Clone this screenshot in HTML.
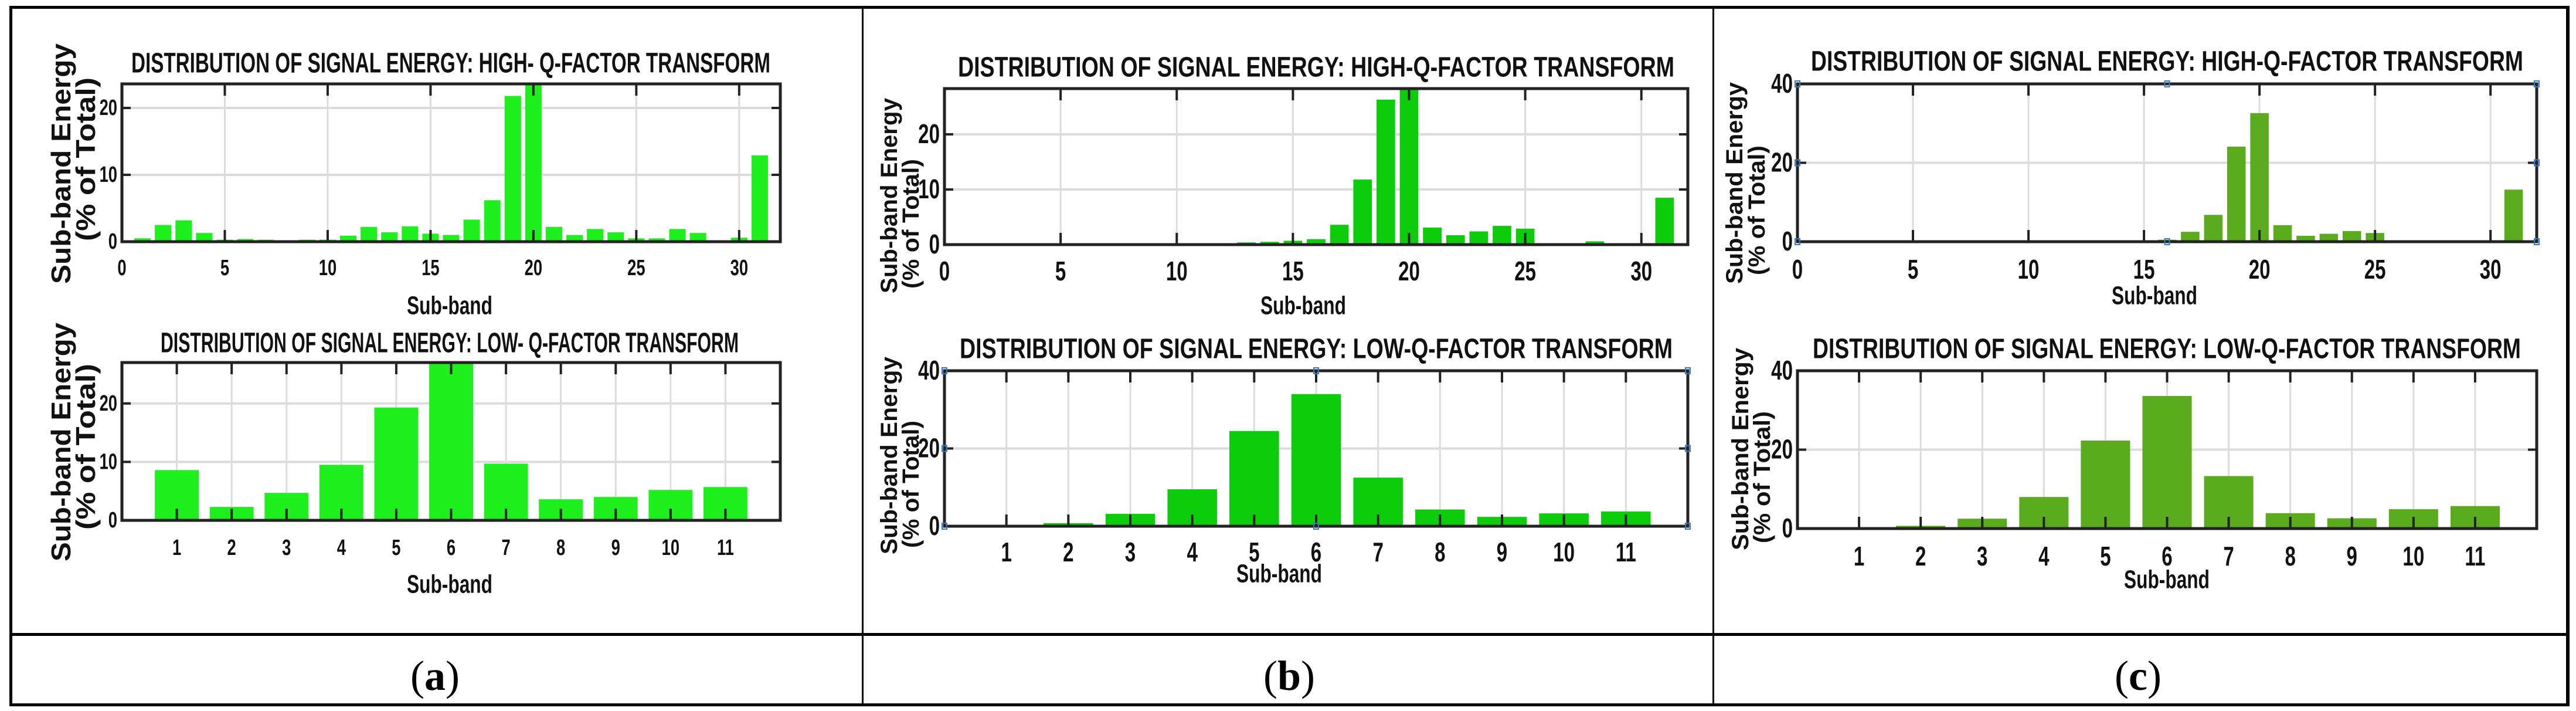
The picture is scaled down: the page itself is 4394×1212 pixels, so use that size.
<!DOCTYPE html>
<html><head><meta charset="utf-8"><style>
html,body{margin:0;padding:0;background:#fff;}
svg{display:block;}
text{font-family:"Liberation Sans",sans-serif;}
</style></head><body>
<svg id="fig" width="4394" height="1212" viewBox="0 0 4394 1212" xmlns="http://www.w3.org/2000/svg">
<rect x="0" y="0" width="4394" height="1212" fill="#fff"/>
<g id="frame">
<rect x="16" y="10" width="5" height="1194" fill="#000"/>
<rect x="4377" y="10" width="6" height="1194" fill="#000"/>
<rect x="16" y="10" width="4367" height="5" fill="#000"/>
<rect x="16" y="1079" width="4367" height="5" fill="#000"/>
<rect x="16" y="1199" width="4367" height="5" fill="#000"/>
<rect x="1470" y="10" width="3" height="1194" fill="#000"/>
<rect x="2921" y="10" width="3" height="1194" fill="#000"/>
</g>
<text x="742" y="1152" font-size="72" text-anchor="middle" dominant-baseline="central" style="font-family:'Liberation Serif',serif">(<tspan font-weight="bold">a</tspan>)</text>
<text x="2199" y="1152" font-size="72" text-anchor="middle" dominant-baseline="central" style="font-family:'Liberation Serif',serif">(<tspan font-weight="bold">b</tspan>)</text>
<text x="3647" y="1152" font-size="72" text-anchor="middle" dominant-baseline="central" style="font-family:'Liberation Serif',serif">(<tspan font-weight="bold">c</tspan>)</text>
</svg>
<script>
// ---- data ----
const highBands = [1,2,3,4,5,6,7,8,9,10,11,12,13,14,15,16,17,18,19,20,21,22,23,24,25,26,27,28,29,30,31];
const lowBands = [1,2,3,4,5,6,7,8,9,10,11];
const highA = [0.5,2.5,3.2,1.3,0.3,0.4,0.3,0.1,0.3,0.3,0.9,2.2,1.4,2.3,1.2,1.0,3.3,6.2,21.8,24,2.2,1.0,1.9,1.4,0.5,0.5,1.9,1.3,0.1,0.6,12.9];
const lowA = [8.6,2.3,4.7,9.5,19.3,27.5,9.7,3.6,4.0,5.2,5.7];
const highB = [0,0,0,0,0,0,0,0,0,0,0.2,0.2,0.4,0.5,0.7,1.0,3.6,11.8,26.3,29,3.1,1.7,2.4,3.4,2.9,0,0.2,0.6,0,0.2,8.5];
const lowB = [0,0.8,3.2,9.5,24.5,34,12.5,4.3,2.4,3.3,3.8];
const highC = [0,0,0,0,0,0,0,0,0,0,0,0.2,0.2,0.2,0.1,0.5,2.5,6.8,24.1,32.6,4.2,1.5,2.0,2.7,2.2,0,0,0,0,0.2,13.2];
const lowC = [0,0.7,2.5,8.0,22.3,33.6,13.3,3.9,2.6,4.9,5.7];
const highXTicks = [0,5,10,15,20,25,30];
const lowXTicks = [1,2,3,4,5,6,7,8,9,10,11];
const yTicksA = [0,10,20];
const yTicksB = [0,10,20];
const yTicksLow = [0,20,40];
const yTicksAlow = [0,10,20];

const NS = "http://www.w3.org/2000/svg";
const svg = document.getElementById('fig');
function el(tag, attrs, parent){
  const e = document.createElementNS(NS, tag);
  for (const k in attrs) e.setAttribute(k, attrs[k]);
  (parent||svg).appendChild(e);
  return e;
}
function ctext(parent, x, y, str, fs, sx, anchor, fill){
  const g = el('g', {transform:`translate(${x},${y}) scale(${sx},1)`}, parent);
  const t = el('text', {x:0, y:0, 'font-size':fs, 'font-weight':'bold', 'text-anchor':anchor||'middle', 'dominant-baseline':'central', fill:fill||'#111'}, g);
  t.textContent = str;
  return t;
}

function chart(cfg){
  const g = el('g', {});
  
  
  const [L,T,R,B] = cfg.box;
  const xs = v => L + (v - cfg.xmin) / (cfg.xmax - cfg.xmin) * (R - L);
  const ys = v => B - v / cfg.ymax * (B - T);
  cfg.xticks.forEach(v => {
    const l = el('line', {x1:xs(v), x2:xs(v), y1:T, y2:B, stroke:'#dcdcdc', 'stroke-width':3}, g);
    
    
  });
  cfg.yticks.forEach(v => {
    if (v <= cfg.ymax) {
      const l = el('line', {x1:L, x2:R, y1:ys(v), y2:ys(v), stroke:'#dcdcdc', 'stroke-width':4}, g);
      
      
    }
  });
  const bw = 0.8;
  cfg.values.forEach((v, i) => {
    const c = cfg.cats[i];
    const y0 = ys(Math.min(v, cfg.ymax));
    const r = el('rect', {x:xs(c - bw/2), y:y0, width:xs(c + bw/2) - xs(c - bw/2), height:Math.max(0, B - y0), fill:cfg.color}, g);
    
    
  });
  const box = el('rect', {x:L, y:T, width:R-L, height:B-T, fill:'none', stroke:'#222', 'stroke-width':5}, g);
  
  
  cfg.xticks.forEach(v => {
    el('line', {x1:xs(v), x2:xs(v), y1:T, y2:T+20, stroke:'#222', 'stroke-width':4}, g);
    el('line', {x1:xs(v), x2:xs(v), y1:B, y2:B-20, stroke:'#222', 'stroke-width':4}, g);
    const t = ctext(g, xs(v), cfg.xtickY, String(v), cfg.tickFs, 0.72);
    
    
  });
  cfg.yticks.forEach(v => {
    if (v <= cfg.ymax) {
      el('line', {x1:L, x2:L+15, y1:ys(v), y2:ys(v), stroke:'#222', 'stroke-width':4}, g);
      el('line', {x1:R, x2:R-15, y1:ys(v), y2:ys(v), stroke:'#222', 'stroke-width':4}, g);
      const t = ctext(g, L - 8, ys(v), String(v), cfg.tickFs, 0.72, 'end');
      
      
    }
  });
  if (cfg.handles) {
    const pts = [[L,T],[(L+R)/2,T],[R,T],[L,(T+B)/2],[R,(T+B)/2],[L,B],[(L+R)/2,B],[R,B]];
    pts.forEach(p => el('rect', {x:p[0]-4, y:p[1]-5, width:8, height:10, fill:'none', stroke:'#3a78c0', 'stroke-width':2}, g));
  }
  const tt = el('text', {x:cfg.title[1], y:cfg.title[3], 'font-size':48, 'font-weight':'bold', 'dominant-baseline':'central', textLength:cfg.title[2]-cfg.title[1], lengthAdjust:'spacingAndGlyphs', fill:'#111'}, g);
  tt.textContent = cfg.title[0];
  
  
  const xl = ctext(g, cfg.xlabel[0], cfg.xlabel[1], 'Sub-band', 44, 0.72);
  
  
  const yl = cfg.ylabel;
  const fs = cfg.ylFs || 40;
  const a = el('text', {transform:`translate(${yl[0]},${(yl[2]+yl[3])/2}) rotate(-90)`, x:0, y:0, 'font-size':fs, 'font-weight':'bold', 'text-anchor':'middle', 'dominant-baseline':'central', textLength:yl[3]-yl[2], lengthAdjust:'spacingAndGlyphs', fill:'#111'}, g);
  a.textContent = 'Sub-band Energy';
  
  
  const b = el('text', {transform:`translate(${yl[1]},${(yl[4]+yl[5])/2}) rotate(-90)`, x:0, y:0, 'font-size':fs, 'font-weight':'bold', 'text-anchor':'middle', 'dominant-baseline':'central', textLength:yl[5]-yl[4], lengthAdjust:'spacingAndGlyphs', fill:'#111'}, g);
  b.textContent = '(% of Total)';
  
  
}

const colA = '#1ef01e', colB = '#0ccc0c', colC = '#5aab1e';
chart({name:'chart-a-high-q', box:[208,143,1331,412], xmin:0, xmax:32, ymax:23.6, cats:highBands, values:highA, xticks:highXTicks, yticks:yTicksA, color:colA, tickFs:38, xtickY:457, ylFs:46,
  title:['DISTRIBUTION OF SIGNAL ENERGY: HIGH- Q-FACTOR TRANSFORM',224,1314,108], xlabel:[767,521], ylabel:[104,146,74,484,132,411]});
chart({name:'chart-a-low-q', box:[208,618,1331,887], xmin:0, xmax:12, ymax:27, cats:lowBands, values:lowA, xticks:lowXTicks, yticks:yTicksAlow, color:colA, tickFs:38, xtickY:934, ylFs:46,
  title:['DISTRIBUTION OF SIGNAL ENERGY: LOW- Q-FACTOR TRANSFORM',274,1260,585], xlabel:[767,996], ylabel:[104,146,550,957,620,903]});
chart({name:'chart-b-high-q', box:[1611,151,2879,417], xmin:0, xmax:32, ymax:28.3, cats:highBands, values:highB, xticks:highXTicks, yticks:yTicksB, color:colB, tickFs:46, xtickY:463,
  title:['DISTRIBUTION OF SIGNAL ENERGY: HIGH-Q-FACTOR TRANSFORM',1634,2856,115], xlabel:[2223,521], ylabel:[1517,1554,167,500,271,492]});
chart({name:'chart-b-low-q', box:[1611,632,2879,897], xmin:0, xmax:12, ymax:40, cats:lowBands, values:lowB, xticks:lowXTicks, yticks:yTicksLow, color:colB, tickFs:46, xtickY:942, handles:true,
  title:['DISTRIBUTION OF SIGNAL ENERGY: LOW-Q-FACTOR TRANSFORM',1637,2853,595], xlabel:[2182,978], ylabel:[1517,1554,608,945,717,934]});
chart({name:'chart-c-high-q', box:[3066,143,4327,412], xmin:0, xmax:32, ymax:40, cats:highBands, values:highC, xticks:highXTicks, yticks:yTicksLow, color:colC, tickFs:46, xtickY:460, handles:true,
  title:['DISTRIBUTION OF SIGNAL ENERGY: HIGH-Q-FACTOR TRANSFORM',3089,4304,105], xlabel:[3675,504], ylabel:[2959,2997,140,484,248,469]});
chart({name:'chart-c-low-q', box:[3066,632,4327,901], xmin:0, xmax:12, ymax:40, cats:lowBands, values:lowC, xticks:lowXTicks, yticks:yTicksLow, color:colC, tickFs:46, xtickY:949,
  title:['DISTRIBUTION OF SIGNAL ENERGY: LOW-Q-FACTOR TRANSFORM',3092,4300,595], xlabel:[3696,988], ylabel:[2969,3006,593,938,701,926]});
</script>
</body></html>
